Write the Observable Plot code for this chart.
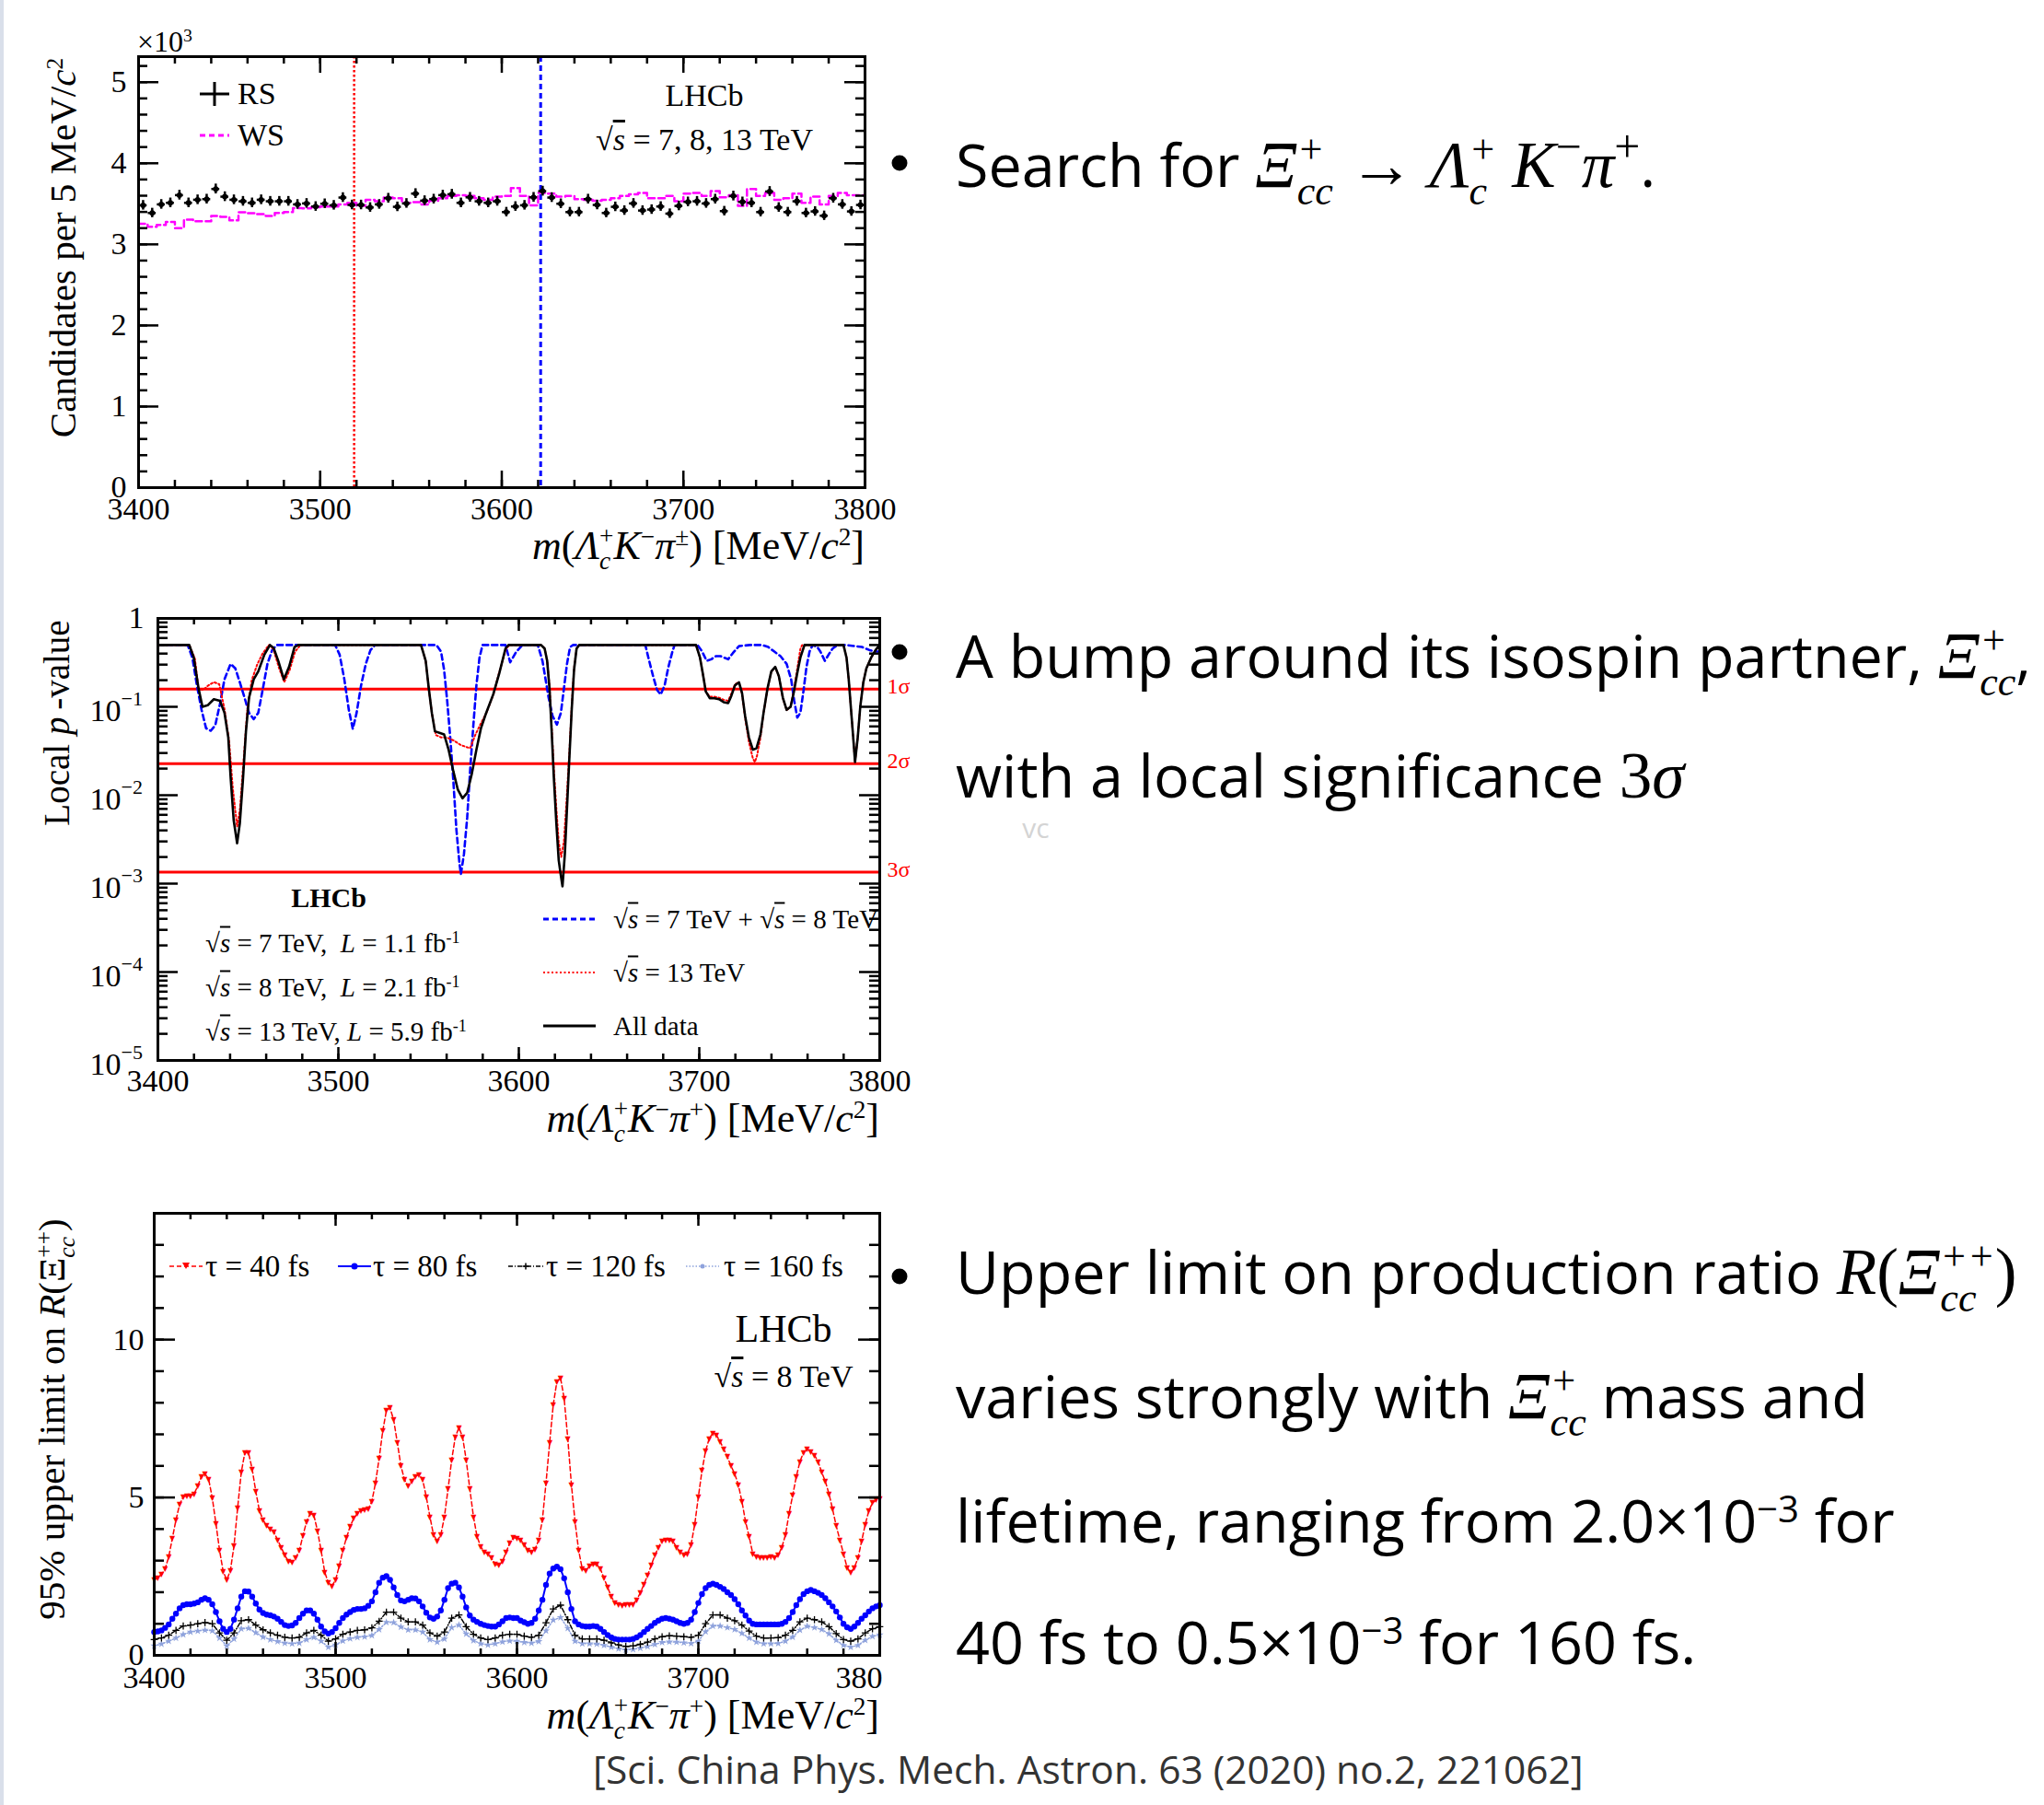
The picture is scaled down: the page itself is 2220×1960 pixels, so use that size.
<!DOCTYPE html>
<html><head><meta charset="utf-8">
<script src="https://cdn.jsdelivr.net/npm/d3@7"></script>
<script src="https://cdn.jsdelivr.net/npm/@observablehq/plot@0.6"></script>
<style>
html,body{margin:0;padding:0;background:#fff;}
body{width:2220px;height:1960px;position:relative;overflow:hidden;font-family:"Liberation Serif",serif;color:#000;}
#edge{position:absolute;left:0;top:0;width:4px;height:1960px;background:#d9dfea;}
.pl{position:absolute;overflow:hidden;}
.pl svg{max-width:none;display:block;}
.t{position:absolute;white-space:nowrap;line-height:1;}
.t i{font-style:italic;}
sup{font-size:0.62em;vertical-align:0.55em;line-height:0;}
.stk{display:inline-block;vertical-align:-0.42em;line-height:1;font-size:0.62em;text-align:left;}
.stk>span{display:block;}
.ov{text-decoration:overline;font-style:italic;}
.b{font-family:"Open Sans",sans-serif;}
.mth{font-family:"Liberation Serif",serif;font-style:italic;font-size:1.1em;}
.up{font-family:"Liberation Serif",serif;font-style:normal;font-size:1.1em;}
.mth sup,.up sup{font-size:0.7em;}
.sv{position:absolute;line-height:0;}
</style></head><body>
<div id="edge"></div>
<script>
// ================= DATA =================
const xTicks = [3400, 3500, 3600, 3700, 3800];

// Panel 1: candidates per 5 MeV bin (RS and WS), 3400-3800
const massLow = 3400, binWidth = 5;
const rsCounts = [3482,3387,3493,3512,3607,3512,3550,3558,3683,3588,
 3550,3531,3512,3550,3531,3531,3531,3493,3505,3467,
 3501,3482,3577,3486,3486,3455,3493,3569,3463,3505,
 3626,3539,3558,3607,3618,3512,3580,3531,3512,3531,
 3398,3467,3482,3580,3656,3577,3501,3398,3398,3558,
 3486,3387,3463,3417,3505,3417,3429,3467,3379,3474,
 3524,3531,3505,3558,3410,3596,3524,3512,3398,3652,
 3455,3398,3531,3387,3406,3353,3569,3493,3406,3486];
const wsCounts = [3254,3216,3239,3277,3201,3304,3285,3285,3349,3338,
 3296,3395,3383,3372,3349,3387,3398,3448,3444,3459,
 3467,3467,3493,3512,3474,3550,3531,3577,3569,3512,
 3520,3493,3539,3569,3596,3607,3596,3569,3550,3588,
 3596,3694,3596,3482,3634,3626,3588,3596,3558,3550,
 3539,3550,3569,3596,3618,3634,3569,3569,3596,3531,
 3626,3634,3596,3656,3580,3607,3474,3683,3596,3634,
 3550,3569,3626,3512,3588,3493,3596,3634,3607,3607];
const selexMass = 3518.7, xiccppMass = 3621.4;
const p1YTicks = [0, 1, 2, 3, 4, 5];

// Panel 2: local p-values
const allMass = [3400,3417.4,3419.9,3422.5,3424.7,3427.6,3431.0,3434.4,3436.9,3439.0,3440.3,3442.0,3443.9,3445.4,3447.1,3448.8,3450.5,3453.1,3455.6,3459.0,3462.1,3464.1,3466.7,3469.8,3472.7,3475.7,3477.8,
 3545.8,3548.4,3550.1,3551.8,3553.5,3556.0,3558.6,3561.1,3563.7,3566.2,3568.8,3571.4,3573.9,3576.5,3579.0,3581.6,3585.8,3589.2,3592.6,3594.3,
 3612.3,3614.3,3615.7,3617.0,3618.2,3619.4,3620.8,3622.1,3623.3,3624.2,3625.5,3626.7,3627.9,3629.3,3630.6,3632.0,3633.5,
 3698.2,3700.4,3701.9,3703.6,3705.8,3708.4,3710.9,3713.5,3716.0,3717.7,3719.8,3722.0,3723.7,3725.4,3727.5,3729.7,3731.7,3733.9,3735.6,3737.8,3739.9,3742.1,3744.1,3746.3,3748.4,3750.6,3752.3,3754.3,3756.0,3758.3,
 3779.9,3781.6,3782.8,3784.1,3785.3,3786.3,3787.8,3789.2,3790.9,3792.6,3795.2,3797.7,3800];
const allP = [0.5,0.5,0.359,0.162,0.100,0.104,0.122,0.117,0.0853,0.0450,0.0159,0.0052,0.00286,0.0048,0.0147,0.0528,0.127,0.205,0.251,0.389,0.5,0.464,0.331,0.205,0.283,0.475,0.5,
 0.5,0.331,0.1615,0.0853,0.0528,0.0507,0.0487,0.0327,0.0187,0.01156,0.00924,0.01067,0.01725,0.0327,0.0571,0.0819,0.1377,0.241,0.456,0.5,
 0.5,0.456,0.331,0.1615,0.0528,0.0159,0.0048,0.00184,0.00123,0.00093,0.00216,0.00716,0.0237,0.0923,0.261,0.456,0.5,
 0.5,0.359,0.241,0.149,0.125,0.125,0.122,0.113,0.110,0.132,0.175,0.189,0.143,0.0787,0.045,0.0327,0.034,0.0487,0.0853,0.1615,0.251,0.283,0.222,0.127,0.0923,0.100,0.143,0.241,0.359,0.5,
 0.5,0.359,0.205,0.0923,0.045,0.0237,0.045,0.100,0.189,0.272,0.359,0.438,0.5];
const run2Mass = [3400,3417.4,3420.5,3422.5,3425,3428,3431,3434,3437,3439.5,3441.5,3443.9,3445.5,3447.5,3449.5,3452,3455,3458,3461.5,3464,3467,3470,3473,3476,3479,
 3545.8,3548.4,3550.1,3552,3554,3557,3560,3564,3568,3573,3576,3579,3582,3586,3589,3593,3595,
 3612.3,3614.3,3615.7,3617.0,3618.2,3619.4,3620.8,3622.1,3623.5,3625.0,3626.5,3628,3629.3,3630.6,3632.0,3633.5,
 3698.2,3700.4,3701.9,3703.6,3705.8,3708.4,3710.9,3713.5,3716.0,3717.7,3719.8,3722.0,3723.7,3725.4,3727.5,3729.7,3730.8,3732,3733.9,3735.6,3737.8,3739.9,3742.1,3744.1,3746.3,3748.4,3750.6,3752.3,3754.3,3756.0,3757,
 3779.9,3781.6,3782.8,3784.1,3785.3,3786.3,3787.8,3789.2,3790.9,3792.6,3795.2,3797.7,3800];
const run2P = [0.5,0.5,0.35,0.16,0.155,0.175,0.19,0.18,0.092,0.04,0.012,0.0044,0.007,0.025,0.09,0.2,0.3,0.4,0.5,0.45,0.28,0.19,0.26,0.42,0.5,
 0.5,0.33,0.16,0.08,0.048,0.045,0.045,0.0415,0.0368,0.034,0.0487,0.065,0.085,0.14,0.24,0.46,0.5,
 0.5,0.456,0.331,0.17,0.06,0.02,0.007,0.003,0.002,0.003,0.009,0.03,0.1,0.27,0.46,0.5,
 0.5,0.359,0.241,0.149,0.13,0.13,0.127,0.12,0.117,0.14,0.18,0.19,0.14,0.075,0.04,0.026,0.0237,0.028,0.045,0.085,0.16,0.25,0.28,0.22,0.125,0.092,0.1,0.15,0.27,0.45,0.5,
 0.5,0.359,0.205,0.0923,0.045,0.0237,0.045,0.1,0.189,0.272,0.359,0.438,0.5];
const run1Mass = [3400,3416.5,3419.1,3421.6,3424.2,3426.7,3429.3,3431.8,3434.4,3436.9,3440.3,3442.9,3445.4,3448.0,3450.5,3453.1,3455.6,3458.2,3460.7,3463.3,3465.9,
 3498.2,3500.7,3503.3,3505.8,3508.0,3510.1,3512.6,3515.2,3517.8,3520.3,
 3554.3,3556.9,3558.6,3560.3,3562.0,3563.7,3565.4,3567.1,3567.9,3569.6,3571.4,3573.1,3574.8,3576.5,3578.2,3579.9,
 3592.6,3595.2,3598.6,3602.0,3610.5,3613.1,3614.8,3616.5,3618.7,3621.1,3623.3,3625.0,3626.7,3628.4,3630.1,
 3670.1,3671.8,3674.4,3676.6,3678.6,3680.8,3682.9,3685.1,3686.3,
 3699.0,3701.6,3704.1,3706.7,3709.2,3711.8,3716.0,3718.6,3722.0,3728.0,3734.8,3738.2,3741.6,3745.0,3748.4,3750.9,3752.6,3754.3,3756.0,3757.7,3759.4,3761.1,3762.8,3765.4,3767.1,3769.6,3772.2,3773.9,3776.5,3781.6,3785.8,3790.1,3794.3,3797.7,3800];
const run1P = [0.5,0.5,0.359,0.175,0.0923,0.0571,0.0536,0.0619,0.108,0.205,0.306,0.272,0.189,0.127,0.0853,0.0726,0.0853,0.1615,0.306,0.438,0.5,
 0.5,0.389,0.205,0.0923,0.0562,0.0853,0.175,0.306,0.438,0.5,
 0.5,0.421,0.261,0.117,0.045,0.0147,0.00409,0.0017,0.00128,0.00216,0.00563,0.0202,0.0619,0.175,0.359,0.5,
 0.5,0.319,0.42,0.5,0.5,0.331,0.205,0.127,0.0787,0.0629,0.0853,0.1615,0.306,0.475,0.5,
 0.5,0.359,0.222,0.155,0.1377,0.175,0.283,0.421,0.5,
 0.5,0.421,0.331,0.345,0.374,0.374,0.345,0.405,0.486,0.5,0.5,0.475,0.421,0.374,0.306,0.205,0.117,0.0756,0.0853,0.149,0.283,0.421,0.5,0.475,0.421,0.331,0.405,0.456,0.5,0.5,0.486,0.475,0.438,0.421,0.421];
const sigmaP = [0.1587, 0.02275, 0.00135];
const sigmaLabels = ["1σ", "2σ", "3σ"];
const p2Exps = [-1, -2, -3, -4, -5];

// Panel 3: 95% upper limits; 40/80 fs every 2 MeV, 120/160 fs every 4 MeV
const ulStep = 2, ulStepCoarse = 4;
const ul40 = [2.39,2.46,2.56,2.74,3.12,3.71,4.29,4.78,5.02,5.05,
 5.05,5.12,5.36,5.66,5.75,5.58,4.99,4.18,3.34,2.66,
 2.39,2.69,3.47,4.68,5.80,6.43,6.41,5.90,5.19,4.58,
 4.29,4.10,4.00,3.90,3.66,3.42,3.17,2.98,2.95,3.08,
 3.32,3.79,4.24,4.49,4.44,3.95,3.32,2.64,2.30,2.20,
 2.39,2.83,3.32,3.73,4.08,4.34,4.49,4.58,4.60,4.63,
 4.88,5.46,6.24,7.11,7.75,7.84,7.46,6.75,6.00,5.56,
 5.36,5.51,5.67,5.73,5.56,5.02,4.39,3.81,3.63,3.81,
 4.39,5.27,6.19,6.92,7.21,6.92,6.19,5.27,4.39,3.76,
 3.44,3.27,3.22,3.08,2.88,2.85,2.98,3.27,3.56,3.73,
 3.71,3.66,3.51,3.32,3.27,3.37,3.66,4.29,5.46,6.73,
 7.94,8.67,8.79,8.14,6.87,5.41,4.24,3.32,2.74,2.69,
 2.83,2.88,2.88,2.74,2.44,2.15,1.86,1.66,1.62,1.59,
 1.60,1.62,1.62,1.76,1.98,2.25,2.54,2.85,3.17,3.42,
 3.63,3.66,3.66,3.61,3.42,3.27,3.17,3.22,3.51,4.15,
 5.02,5.85,6.48,6.87,7.04,6.97,6.77,6.53,6.29,6.00,
 5.75,5.41,4.88,4.24,3.76,3.22,3.12,3.10,3.10,3.10,
 3.12,3.10,3.17,3.42,3.81,4.49,5.07,5.66,6.14,6.43,
 6.53,6.45,6.34,6.14,5.80,5.51,5.12,4.63,4.10,3.66,
 3.22,2.78,2.62,2.78,3.08,3.61,4.15,4.58,4.83,4.92,
 4.97];
const ul80 = [0.74,0.76,0.79,0.87,0.98,1.16,1.32,1.49,1.59,1.62,
 1.62,1.64,1.68,1.76,1.81,1.76,1.62,1.37,1.08,0.84,
 0.74,0.84,1.13,1.49,1.86,2.03,2.02,1.86,1.64,1.45,
 1.34,1.29,1.27,1.23,1.16,1.06,0.96,0.93,0.95,1.03,
 1.18,1.32,1.42,1.42,1.32,1.13,0.91,0.76,0.69,0.74,
 0.86,1.03,1.18,1.29,1.37,1.44,1.47,1.47,1.49,1.57,
 1.71,2.00,2.30,2.46,2.51,2.39,2.15,1.91,1.74,1.71,
 1.76,1.81,1.80,1.71,1.55,1.35,1.20,1.16,1.23,1.42,
 1.76,2.13,2.27,2.30,2.15,1.86,1.52,1.26,1.13,1.06,
 1.00,0.96,0.93,0.91,0.91,0.98,1.08,1.18,1.20,1.18,
 1.18,1.10,1.05,1.00,1.03,1.16,1.42,1.76,2.23,2.59,
 2.75,2.81,2.73,2.44,2.00,1.47,1.08,0.98,0.93,0.91,
 0.91,0.93,0.91,0.84,0.74,0.64,0.57,0.52,0.50,0.50,
 0.50,0.50,0.52,0.57,0.64,0.74,0.84,0.93,1.03,1.10,
 1.16,1.18,1.16,1.13,1.08,1.03,1.00,1.03,1.13,1.37,
 1.66,1.94,2.13,2.23,2.27,2.23,2.17,2.10,2.00,1.91,
 1.78,1.62,1.42,1.26,1.10,1.00,0.98,0.98,0.98,0.98,
 0.98,0.98,0.98,1.00,1.06,1.18,1.37,1.59,1.78,1.94,
 2.03,2.07,2.03,1.98,1.91,1.81,1.68,1.55,1.39,1.20,
 1.00,0.89,0.84,0.91,1.03,1.16,1.27,1.39,1.49,1.55,
 1.59];
const ul120 = [0.50,0.55,0.64,0.79,0.93,0.96,1.00,1.04,1.00,0.71,
 0.48,0.71,1.10,1.13,0.96,0.81,0.71,0.64,0.57,0.55,
 0.57,0.71,0.79,0.64,0.45,0.52,0.67,0.74,0.79,0.81,
 0.87,1.08,1.37,1.37,1.18,1.06,1.06,0.96,0.71,0.61,
 0.74,1.18,1.28,0.91,0.67,0.55,0.50,0.55,0.64,0.67,
 0.67,0.61,0.57,0.64,1.03,1.47,1.59,1.13,0.64,0.52,
 0.52,0.52,0.48,0.40,0.33,0.28,0.30,0.35,0.42,0.52,
 0.59,0.62,0.61,0.59,0.57,0.64,1.00,1.28,1.28,1.18,
 1.10,0.96,0.77,0.61,0.55,0.55,0.56,0.64,0.79,1.06,
 1.18,1.13,1.06,0.91,0.69,0.50,0.45,0.52,0.71,0.84,
 0.91];
const ul160 = [0.30,0.36,0.45,0.55,0.66,0.74,0.77,0.80,0.78,0.55,
 0.30,0.52,0.84,0.86,0.72,0.58,0.50,0.44,0.39,0.37,
 0.39,0.50,0.57,0.45,0.26,0.33,0.46,0.53,0.57,0.59,
 0.63,0.82,1.05,1.04,0.90,0.81,0.81,0.74,0.50,0.42,
 0.52,0.88,0.96,0.68,0.47,0.37,0.33,0.37,0.43,0.46,
 0.45,0.41,0.39,0.44,0.78,1.12,1.20,0.86,0.45,0.37,
 0.37,0.36,0.32,0.26,0.21,0.175,0.19,0.23,0.28,0.35,
 0.41,0.43,0.42,0.40,0.38,0.45,0.75,0.93,0.93,0.88,
 0.82,0.70,0.55,0.42,0.37,0.37,0.38,0.45,0.58,0.80,
 0.92,0.88,0.82,0.68,0.48,0.32,0.26,0.32,0.48,0.60,
 0.65];
const p3YTicks = [0, 5, 10];
const p3LastTickText = "380";   // the slide crops the last tick label of this panel

// ================= HELPERS =================
const SERIF = "Liberation Serif";
function box(el, x, y, w) {
  const d = document.createElement("div");
  d.className = "pl"; d.style.left = x + "px"; d.style.top = y + "px"; d.style.width = w + "px";
  d.appendChild(el); document.body.appendChild(d); return d;
}
function frameTicks(o) {
  const {xMaj, xMin, yMaj, yMin, pw, ph, xl, xs, yl, ys, sw = 2.5} = o;
  const s = {stroke: "#000", strokeWidth: sw};
  return [
    Plot.ruleX(xMin, {x: d => d, insetTop: ph - xs, ...s}),
    Plot.ruleX(xMin, {x: d => d, insetBottom: ph - xs, ...s}),
    Plot.ruleX(xMaj, {x: d => d, insetTop: ph - xl, ...s}),
    Plot.ruleX(xMaj, {x: d => d, insetBottom: ph - xl, ...s}),
    Plot.ruleY(yMin, {y: d => d, insetRight: pw - ys, ...s}),
    Plot.ruleY(yMin, {y: d => d, insetLeft: pw - ys, ...s}),
    Plot.ruleY(yMaj, {y: d => d, insetRight: pw - yl, ...s}),
    Plot.ruleY(yMaj, {y: d => d, insetLeft: pw - yl, ...s})
  ];
}
const xMinor = d3.range(3400, 3801, 20);
const xLab = (ticks, dy, extra = {}) => Plot.text(ticks, {x: d => d, frameAnchor: "bottom", lineAnchor: "middle", dy, text: d => String(d), fontSize: 34, ...extra});

// ================= PANEL 1 =================
const rs = rsCounts.map((v, i) => ({m: massLow + binWidth * (i + 0.5), v}));
const ws = wsCounts.map((v, i) => ({m: massLow + binWidth * i, v}));
ws.push({m: massLow + binWidth * wsCounts.length, v: wsCounts[wsCounts.length - 1]});
{
  const W = 880, H = 580, ml = 50, mr = 41, mt = 41, mb = 71;
  const pw = W - ml - mr, ph = H - mt - mb;
  const svg = Plot.plot({
    width: W, height: H, marginLeft: ml, marginRight: mr, marginTop: mt, marginBottom: mb,
    x: {domain: [3400, 3800], axis: null},
    y: {domain: [0, 5315], axis: null},
    style: {fontFamily: SERIF, background: "transparent", overflow: "visible"},
    marks: [
      Plot.ruleX([selexMass], {x: d => d, stroke: "#ff0000", strokeWidth: 2.5, strokeDasharray: "2.5,2.5"}),
      Plot.ruleX([xiccppMass], {x: d => d, stroke: "#0000ff", strokeWidth: 3, strokeDasharray: "6,4"}),
      Plot.line(ws, {x: "m", y: "v", curve: "step-after", stroke: "#ff00ff", strokeWidth: 2.5, strokeDasharray: "7,4"}),
      Plot.ruleX(rs, {x: "m", y1: d => d.v - Math.sqrt(d.v), y2: d => d.v + Math.sqrt(d.v), stroke: "#000", strokeWidth: 2.5}),
      Plot.ruleY(rs, {y: "v", x1: d => d.m - 2.2, x2: d => d.m + 2.2, stroke: "#000", strokeWidth: 2.5}),
      Plot.dot(rs, {x: "m", y: "v", r: 3, fill: "#000"}),
      ...frameTicks({xMaj: xTicks, xMin: xMinor, yMaj: p1YTicks.map(d => d * 1000), yMin: d3.range(0, 5400, 200), pw, ph, xl: 18, xs: 8, yl: 22, ys: 10}),
      Plot.frame({stroke: "#000", strokeWidth: 3}),
      xLab(xTicks, 24),
      Plot.text(p1YTicks, {y: d => d * 1000, frameAnchor: "left", lineAnchor: "middle", dx: -13, textAnchor: "end", text: d => String(d), fontSize: 34})
    ]
  });
  box(svg, 100, 20, W);
}

// ================= PANEL 2 =================
const allData = allMass.map((m, i) => ({m, p: allP[i]}));
const run2Data = run2Mass.map((m, i) => ({m, p: run2P[i]}));
const run1Data = run1Mass.map((m, i) => ({m, p: run1P[i]}));
{
  const W = 960, H = 580, ml = 131, mr = 45, mt = 41, mb = 59;
  const pw = W - ml - mr, ph = H - mt - mb;
  const yMin = [];
  for (let e = -5; e < 0; e++) for (let k = 2; k <= 9; k++) yMin.push(k * Math.pow(10, e));
  const yMaj = [0, ...p2Exps].map(e => Math.pow(10, e));
  const svg = Plot.plot({
    width: W, height: H, marginLeft: ml, marginRight: mr, marginTop: mt, marginBottom: mb,
    x: {domain: [3400, 3800], axis: null},
    y: {type: "log", domain: [1e-5, 1], axis: null},
    style: {fontFamily: SERIF, background: "transparent", overflow: "visible"},
    marks: [
      Plot.ruleY(sigmaP, {y: d => d, stroke: "#ff0000", strokeWidth: 3}),
      Plot.line(run1Data, {x: "m", y: "p", stroke: "#0000ff", strokeWidth: 2.6, strokeDasharray: "6,4"}),
      Plot.line(run2Data, {x: "m", y: "p", stroke: "#ff0000", strokeWidth: 2, strokeDasharray: "2,2.5"}),
      Plot.line(allData, {x: "m", y: "p", stroke: "#000", strokeWidth: 2.6}),
      ...frameTicks({xMaj: xTicks, xMin: xMinor, yMaj, yMin, pw, ph, xl: 14, xs: 7, yl: 22, ys: 11}),
      Plot.frame({stroke: "#000", strokeWidth: 3}),
      Plot.text(sigmaP, {y: d => d, frameAnchor: "right", lineAnchor: "middle", dx: 8, dy: -3, textAnchor: "start", text: (d, i) => sigmaLabels[i], fill: "#ff0000", fontSize: 24}),
      xLab(xTicks, 23),
      Plot.text([1], {y: d => d, frameAnchor: "left", lineAnchor: "middle", dx: -15, textAnchor: "end", text: d => "1", fontSize: 34}),
      Plot.text(p2Exps, {y: d => Math.pow(10, d), frameAnchor: "left", lineAnchor: "middle", dx: -40, dy: 5, textAnchor: "end", text: d => "10", fontSize: 34}),
      Plot.text(p2Exps, {y: d => Math.pow(10, d), frameAnchor: "left", lineAnchor: "middle", dx: -40, dy: -9, textAnchor: "start", text: d => "−" + (-d), fontSize: 22})
    ]
  });
  box(svg, 40, 630, W);
}

// ================= PANEL 3 =================
const u40 = ul40.map((v, i) => ({m: 3400 + ulStep * i, v}));
const u80 = ul80.map((v, i) => ({m: 3400 + ulStep * i, v}));
const u120 = ul120.map((v, i) => ({m: 3400 + ulStepCoarse * i, v}));
const u160 = ul160.map((v, i) => ({m: 3400 + ulStepCoarse * i, v}));
const LB = "#8ea2dc";
{
  const W = 880, H = 580, ml = 67, mr = 25, mt = 37, mb = 63;
  const pw = W - ml - mr, ph = H - mt - mb;
  const svg = Plot.plot({
    width: W, height: H, marginLeft: ml, marginRight: mr, marginTop: mt, marginBottom: mb,
    x: {domain: [3400, 3800], axis: null},
    y: {domain: [0, 14], axis: null},
    style: {fontFamily: SERIF, background: "transparent", overflow: "visible"},
    marks: [
      Plot.line(u160, {x: "m", y: "v", stroke: LB, strokeWidth: 1.5, strokeDasharray: "1.5,2"}),
      Plot.dot(u160, {x: "m", y: "v", symbol: "star", r: 2.6, fill: LB}),
      Plot.line(u120, {x: "m", y: "v", stroke: "#000", strokeWidth: 1.5, strokeDasharray: "5,2,1,2"}),
      Plot.dot(u120, {x: "m", y: "v", symbol: "plus", r: 2.6, stroke: "#000", strokeWidth: 1.3}),
      Plot.line(u80, {x: "m", y: "v", stroke: "#0000ff", strokeWidth: 2}),
      Plot.dot(u80, {x: "m", y: "v", r: 3.2, fill: "#0000ff"}),
      Plot.line(u40, {x: "m", y: "v", stroke: "#ff0000", strokeWidth: 1.5, strokeDasharray: "5,3"}),
      Plot.text(u40, {x: "m", y: "v", text: d => "▼", fill: "#ff0000", fontSize: 8, fontFamily: "DejaVu Sans"}),
      ...frameTicks({xMaj: xTicks, xMin: xMinor, yMaj: p3YTicks, yMin: d3.range(0, 15, 1), pw, ph, xl: 14, xs: 7, yl: 23, ys: 11}),
      Plot.frame({stroke: "#000", strokeWidth: 3}),
      xLab(xTicks.slice(0, -1), 25),
      Plot.text(xTicks.slice(-1), {x: d => d, frameAnchor: "bottom", lineAnchor: "middle", dy: 25, dx: -48, textAnchor: "start", text: d => p3LastTickText, fontSize: 34}),
      Plot.text(p3YTicks, {y: d => d, frameAnchor: "left", lineAnchor: "middle", dx: -11, textAnchor: "end", text: d => String(d), fontSize: 34})
    ]
  });
  box(svg, 100, 1280, W);
}

// ================= TEXT OVERLAYS =================
function T(html, x, y, o = {}) {
  const {a = "l", fs = 34, rot = false, color, bold = false, ff} = o;
  const d = document.createElement("div");
  d.className = "t"; d.innerHTML = html;
  d.style.left = x + "px"; d.style.top = y + "px"; d.style.fontSize = fs + "px";
  if (color) d.style.color = color;
  if (bold) d.style.fontWeight = "bold";
  if (ff) d.style.fontFamily = ff;
  const tx = a === "l" ? "0" : a === "c" ? "-50%" : "-100%";
  d.style.transform = rot ? "translate(-50%,-50%) rotate(-90deg)" : `translate(${tx},-50%)`;
  document.body.appendChild(d); return d;
}
function SV(inner, w, h, cx, cy) {
  const d = document.createElement("div");
  d.className = "sv"; d.style.left = (cx - w / 2) + "px"; d.style.top = (cy - h / 2) + "px";
  d.innerHTML = `<svg width="${w}" height="${h}" style="display:block;overflow:visible">${inner}</svg>`;
  document.body.appendChild(d); return d;
}
const stk = (sp, sb) => `<span class="stk"><span>${sp}</span><span>${sb}</span></span>`;
const rts = `√<span class="ov">s</span>`;
const massLabel = (q) => `<i>m</i>(<i>Λ</i>${stk("+", "<i>c</i>")}<i>K</i><sup>−</sup><i>π</i><sup>${q}</sup>) [MeV/<i>c</i><sup>2</sup>]`;

// panel 1 texts
T(`×10<sup>3</sup>`, 149, 45, {fs: 32});
T(`Candidates per 5 MeV/<i>c</i><sup>2</sup>`, 68, 269, {fs: 41, rot: true});
T(massLabel("±"), 939, 596, {a: "r", fs: 44});
SV(`<line x1="0" y1="13" x2="32" y2="13" stroke="#000" stroke-width="3"/><line x1="16" y1="0" x2="16" y2="26" stroke="#000" stroke-width="3"/>`, 32, 26, 233, 102);
T("RS", 258, 102, {fs: 34});
SV(`<line x1="0" y1="2" x2="32" y2="2" stroke="#ff00ff" stroke-width="3" stroke-dasharray="6,4"/>`, 32, 4, 233, 147);
T("WS", 258, 147, {fs: 34});
T("LHCb", 765, 104, {a: "c", fs: 34});
T(`${rts} = 7, 8, 13 TeV`, 765, 152, {a: "c", fs: 34});

// panel 2 texts
T(`Local <i>p</i>&thinsp;-value`, 61, 785, {fs: 39, rot: true});
T(massLabel("+"), 955, 1218, {a: "r", fs: 44});
T("LHCb", 357, 975, {a: "c", fs: 30, bold: true});
T(`${rts} = 7 TeV,&nbsp; <i>L</i> = 1.1 fb<sup>-1</sup>`, 223, 1024, {fs: 29});
T(`${rts} = 8 TeV,&nbsp; <i>L</i> = 2.1 fb<sup>-1</sup>`, 223, 1072, {fs: 29});
T(`${rts} = 13 TeV, <i>L</i> = 5.9 fb<sup>-1</sup>`, 223, 1120, {fs: 29});
SV(`<line x1="0" y1="2" x2="57" y2="2" stroke="#0000ff" stroke-width="3" stroke-dasharray="6,4"/>`, 57, 4, 618, 998);
T(`${rts} = 7 TeV + ${rts} = 8 TeV`, 666, 998, {fs: 29});
SV(`<line x1="0" y1="2" x2="57" y2="2" stroke="#ff0000" stroke-width="2" stroke-dasharray="2,2.5"/>`, 57, 4, 618, 1056);
T(`${rts} = 13 TeV`, 666, 1056, {fs: 29});
SV(`<line x1="0" y1="2" x2="57" y2="2" stroke="#000" stroke-width="3"/>`, 57, 4, 618, 1114);
T(`All data`, 666, 1114, {fs: 29});

// panel 3 texts
T(`95% upper limit on <i>R</i>(Ξ${stk("++", "<i>cc</i>")})`, 60, 1541, {fs: 41, rot: true});
T(massLabel("+"), 955, 1866, {a: "r", fs: 44});
T("LHCb", 851, 1443, {a: "c", fs: 42});
T(`${rts} = 8 TeV`, 851, 1495, {a: "c", fs: 34});
SV(`<line x1="0" y1="8" x2="36" y2="8" stroke="#ff0000" stroke-width="1.5" stroke-dasharray="5,3"/><path d="M14,4 L22,4 L18,11 Z" fill="#ff0000"/>`, 36, 16, 202, 1375);
T(`τ = 40 fs`, 223, 1375, {fs: 33});
SV(`<line x1="0" y1="8" x2="36" y2="8" stroke="#0000ff" stroke-width="2"/><circle cx="18" cy="8" r="3.5" fill="#0000ff"/>`, 36, 16, 385, 1375);
T(`τ = 80 fs`, 405, 1375, {fs: 33});
SV(`<line x1="0" y1="8" x2="38" y2="8" stroke="#000" stroke-width="1.5" stroke-dasharray="5,2,1,2"/><path d="M19,4.5 V11.5 M15.5,8 H22.5" stroke="#000" stroke-width="1.5"/>`, 38, 16, 571, 1375);
T(`τ = 120 fs`, 593, 1375, {fs: 33});
SV(`<line x1="0" y1="8" x2="36" y2="8" stroke="${LB}" stroke-width="1.5" stroke-dasharray="1.5,2"/><circle cx="18" cy="8" r="2.5" fill="${LB}"/>`, 36, 16, 763, 1375);
T(`τ = 160 fs`, 786, 1375, {fs: 33});

// ================= BULLETS (slide text) =================
function measure(html, cls, size) {
  const s = document.createElement("span");
  s.className = cls; s.style.cssText = `position:absolute;visibility:hidden;white-space:nowrap;font-size:${size}px`;
  s.innerHTML = html; document.body.appendChild(s);
  const w = s.getBoundingClientRect().width; s.remove(); return w;
}
function lineAt(html, x, base, fs, cls, color) {
  const d = document.createElement("div");
  d.className = "t " + cls; d.style.left = x + "px"; d.style.top = "0px"; d.style.fontSize = fs + "px";
  if (color) d.style.color = color;
  d.innerHTML = html;
  const mk = document.createElement("span");
  mk.style.cssText = "display:inline-block;width:0;height:0;vertical-align:baseline";
  d.appendChild(mk); document.body.appendChild(d);
  const b = mk.getBoundingClientRect().top;
  d.style.top = (base - b) + "px"; mk.remove(); return d;
}
const FS = 100 * 957 / measure("Upper limit on production ratio&nbsp;", "b", 100);
const M = s => `<span class="mth">${s}</span>`;
const U = s => `<span class="up">${s}</span>`;
const XI = (sp) => `${M("Ξ")}<span class="mth">${stk(sp, "cc")}</span>`;
const X0 = 1038;
[177, 708, 1386].forEach(cy => SV(`<circle cx="9" cy="9" r="8.5" fill="#000"/>`, 18, 18, 977, cy));
lineAt(`Search for ${XI("+")} ${U("→")} ${M("Λ")}<span class="mth">${stk("+", "c")}</span> ${M("K")}<span class="up"><sup>−</sup></span>${M("π")}<span class="up"><sup>+</sup></span>.`, X0, 203, FS, "b");
lineAt(`A bump around its isospin partner, ${XI("+")},`, X0, 736, FS, "b");
lineAt(`with a local significance ${U("3")}${M("σ")}`, X0, 866, FS, "b");
lineAt(`Upper limit on production ratio ${M("R")}${U("(")}${XI("++")}${U(")")}`, X0, 1405, FS, "b");
lineAt(`varies strongly with ${XI("+")} mass and`, X0, 1540, FS, "b");
lineAt(`lifetime, ranging from 2.0×10<sup>−3</sup> for`, X0, 1675, FS, "b");
lineAt(`40 fs to 0.5×10<sup>−3</sup> for 160 fs.`, X0, 1807, FS, "b");
const capText = "[Sci. China Phys. Mech. Astron. 63 (2020) no.2, 221062]";
const FC = 100 * 1076 / measure(capText, "b", 100);
lineAt(capText, 644, 1937, FC, "b", "#333");
T("vc", 1125, 899, {a: "c", fs: 30, color: "#d4d4d4", ff: "Open Sans"});
</script>
</body></html>
